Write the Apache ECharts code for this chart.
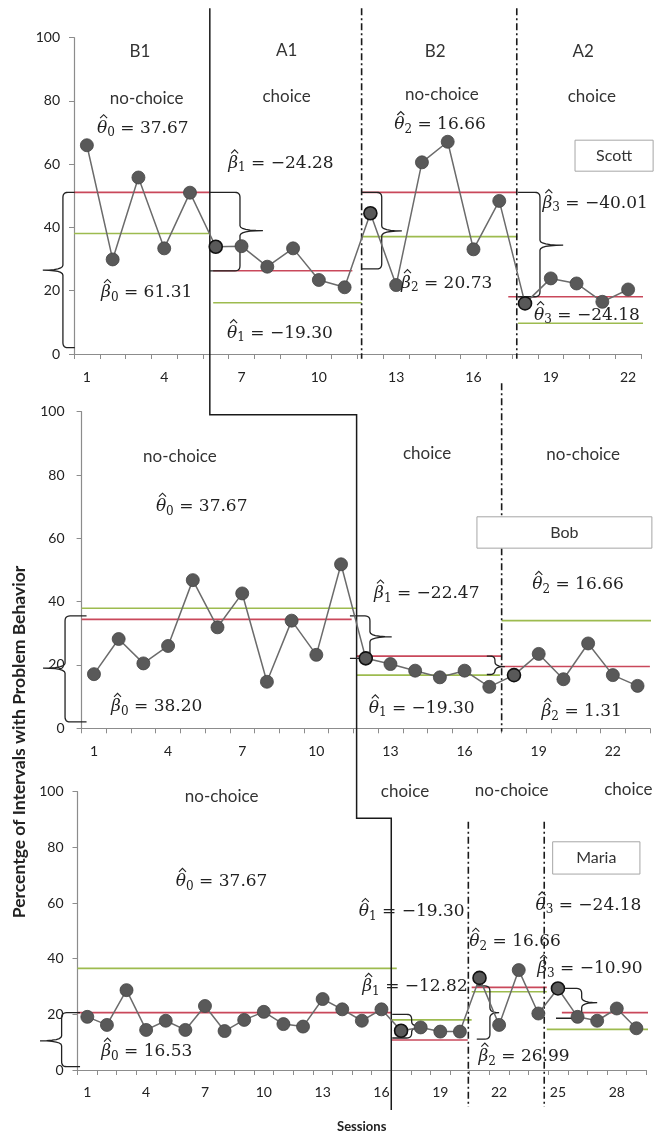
<!DOCTYPE html>
<html>
<head>
<meta charset="utf-8">
<script src="https://cdn.jsdelivr.net/npm/echarts@6/dist/echarts.min.js"></script>
<style>
html,body{margin:0;padding:0;background:#fff;}
#chart{width:656px;height:1136px;}
</style>
</head>
<body>
<div id="chart"></div>
<script>
// ---------------- DATA ----------------
const sessionsScott = ['1','2','3','4','5','6','7','8','9','10','11','12','13','14','15','16','17','18','19','20','21','22'];
const sessionsBob = ['1','2','3','4','5','6','7','8','9','10','11','12','13','14','15','16','17','18','19','20','21','22','23'];
const sessionsMaria = ['1','2','3','4','5','6','7','8','9','10','11','12','13','14','15','16','17','18','19','20','21','22','23','24','25','26','27','28','29'];

const scott = [66.0, 29.9, 55.8, 33.4, 51.0, 33.9, 34.1, 27.6, 33.4, 23.4, 21.1, 44.5, 21.8, 60.6, 67.1, 33.1, 48.4, 16.0, 23.9, 22.3, 16.5, 20.4];
const bob = [17.1, 28.2, 20.5, 26.0, 46.8, 31.9, 42.6, 14.7, 34.0, 23.2, 51.8, 22.1, 20.3, 18.2, 16.1, 18.2, 13.1, 16.8, 23.5, 15.5, 26.8, 16.8, 13.4];
const maria = [19.1, 16.2, 28.7, 14.4, 17.7, 14.4, 23.0, 14.0, 18.0, 20.9, 16.5, 15.6, 25.5, 21.8, 17.7, 21.8, 14.1, 15.3, 13.8, 13.8, 33.1, 16.2, 35.9, 20.3, 29.3, 19.1, 17.7, 22.1, 15.0];

// phase-start sessions drawn with a dark outline (1-based)
const outlinedScott = [6, 12, 18];
const outlinedBob = [12, 18];
const outlinedMaria = [17, 21, 25];

// level lines per panel: [colour, level, fromSession, toSession] (session-boundary units)
const levelsScott = [
  ['red', 51.1, 0, 5.27], ['green', 38.1, 0, 5.27],
  ['red', 26.3, 5.4, 10.8], ['green', 16.2, 5.4, 11.16],
  ['red', 51.1, 11.16, 17.2], ['green', 37.1, 11.16, 17.2],
  ['red', 18.1, 16.85, 22.3], ['green', 9.7, 17.23, 22.2]
];
const levelsBob = [
  ['red', 34.4, 0, 10.93], ['green', 37.9, 0, 11.13],
  ['red', 22.8, 11.13, 17.0], ['green', 16.8, 11.13, 16.93],
  ['red', 19.5, 17.0, 23.0], ['green', 34.0, 17.0, 23.25]
];
const levelsMaria = [
  ['red', 20.6, 0, 16.0], ['green', 36.5, 0, 16.28],
  ['red', 10.8, 16.0, 19.9], ['green', 18.0, 16.0, 20.1],
  ['red', 29.7, 20.1, 23.93], ['green', 28.1, 20.1, 23.93],
  ['red', 20.6, 24.7, 29.2], ['green', 14.6, 23.93, 29.35]
];

// tick label texts shown on the y axes
const yTicks = ['0', '20', '40', '60', '80', '100'];

// ---------------- STYLE / LAYOUT ----------------
const RED = '#c9485b', GREEN = '#9dbb4f';
const grids = [
  {left: 74, top: 37.7, width: 567, height: 316.3, n: 22, yMargin: 14, xMargin: 16},
  {left: 81.6, top: 411.7, width: 568.3, height: 316.6, n: 23, yMargin: 17, xMargin: 16},
  {left: 77.5, top: 791.7, width: 568.7, height: 278.3, n: 29, yMargin: 14, xMargin: 15}
];
const cats = [sessionsScott, sessionsBob, sessionsMaria];
const values = [scott, bob, maria];
const outlined = [outlinedScott, outlinedBob, outlinedMaria];
const levels = [levelsScott, levelsBob, levelsMaria];

const chart = echarts.init(document.getElementById('chart'), null, {renderer: 'canvas'});
const AX = '#8c8c8c';
const LABEL_FONT = 'Lato, "Open Sans", sans-serif';
const MATH_FONT = '"DejaVu Serif", serif';

const option = {
  animation: false,
  backgroundColor: '#fff',
  grid: grids.map(g => ({left: g.left, top: g.top, width: g.width, height: g.height})),
  xAxis: [
    ...grids.map((g, i) => ({
      type: 'category', gridIndex: i, data: cats[i], boundaryGap: true,
      axisLine: {lineStyle: {color: AX, width: 1.2}},
      axisTick: {show: true, interval: 0, length: 5, lineStyle: {color: AX}},
      axisLabel: {interval: 2, color: '#222', fontFamily: LABEL_FONT, fontSize: 14, margin: g.xMargin},
      splitLine: {show: false}
    })),
    ...grids.map((g, i) => ({type: 'value', gridIndex: i, min: 0, max: g.n, show: false}))
  ],
  yAxis: grids.map((g, i) => ({
    type: 'value', gridIndex: i, min: 0, max: 100, interval: 20,
    axisLine: {show: true, lineStyle: {color: AX, width: 1.2}},
    axisTick: {show: true, length: 5, lineStyle: {color: AX}},
    splitLine: {show: false},
    axisLabel: {color: '#222', fontFamily: LABEL_FONT, fontSize: 14, margin: g.yMargin,
      formatter: v => yTicks[Math.round(v / 20)]}
  })),
  series: []
};

grids.forEach((g, i) => {
  levels[i].forEach(l => {
    option.series.push({
      type: 'line', xAxisIndex: 3 + i, yAxisIndex: i, silent: true, symbol: 'none', z: 1,
      data: [[l[2], l[1]], [l[3], l[1]]],
      lineStyle: {color: l[0] === 'red' ? RED : GREEN, width: 1.6}
    });
  });
  option.series.push({
    type: 'line', xAxisIndex: i, yAxisIndex: i, z: 5,
    symbol: 'circle', symbolSize: 13,
    data: values[i].map((v, k) => outlined[i].includes(k + 1)
      ? {value: v, itemStyle: {borderColor: '#111', borderWidth: 1.6}} : v),
    itemStyle: {color: '#595959', borderColor: '#444', borderWidth: 0.8},
    lineStyle: {color: '#6b6b6b', width: 1.5}
  });
});

chart.setOption(option);

// ---------------- ANNOTATIONS (positioned through the axes) ----------------
function P(g, x, y) { return chart.convertToPixel({xAxisIndex: 3 + g, yAxisIndex: g}, [x, y]); }

// phase-change lines
const solidSteps = [[0, 5.27, 109.3], [1, 11.13, 99], [2, 16.0, 90.5]];
const dashLines = [[0, 11.16, 109.3, -1.5], [0, 17.18, 109.3, -1.5], [1, 17.0, 109, -1], [2, 19.93, 89.2, -13.3], [2, 23.8, 89.2, -13.3]];

// braces: panel, spine x, end x, nub x, top, bottom, middle
const braces = [
  [0, -0.43, 0.03, -1.21, 51.1, 2, 26.5],
  [0, 6.44, 5.27, 7.33, 51.1, 26.3, 39],
  [0, 11.94, 11.16, 12.72, 51.1, 26.9, 38.9],
  [0, 18.08, 17.23, 18.98, 51.1, 18.1, 34.4],
  [1, -0.67, 0.2, -1.56, 35.5, 2, 19],
  [1, 11.67, 10.86, 12.55, 35.5, 22.1, 28.9],
  [1, 16.73, 16.4, 17.13, 22.8, 17, 19.5],
  [2, -0.81, 0.13, -1.91, 20.6, 1.2, 10.5],
  [2, 17.04, 16.05, 17.72, 20.0, 11.5, 15.5],
  [2, 21.03, 20.36, 21.5, 30.2, 11.1, 20.6],
  [2, 25.71, 24.4, 26.5, 29.3, 18.6, 24.2]
];

// text annotations: panel, x, y, kind, content
const texts = [
  [0, 2.56, 95.5, 't', 'B1'], [0, 8.25, 96.0, 't', 'A1'], [0, 14.01, 95.5, 't', 'B2'], [0, 19.76, 95.5, 't', 'A2'],
  [0, 2.82, 80.8, 't', 'no-choice'], [0, 8.25, 81.3, 't', 'choice'], [0, 14.27, 82.0, 't', 'no-choice'], [0, 20.09, 81.5, 't', 'choice'],
  [0, 2.67, 71.4, 'm', ['θ', '0', ' = 37.67']],
  [0, 8.03, 60.3, 'm', ['β', '1', ' = −24.28']],
  [0, 2.82, 19.3, 'm', ['β', '0', ' = 61.31']],
  [0, 7.99, 6.6, 'm', ['θ', '1', ' = −19.30']],
  [0, 14.2, 72.4, 'm', ['θ', '2', ' = 16.66']],
  [0, 14.46, 22.4, 'm', ['β', '2', ' = 20.73']],
  [0, 20.22, 47.7, 'm', ['β', '3', ' = −40.01']],
  [0, 19.9, 12.3, 'm', ['θ', '3', ' = −24.18']],
  [1, 3.98, 86.0, 't', 'no-choice'], [1, 13.98, 86.9, 't', 'choice'], [1, 20.3, 86.6, 't', 'no-choice'],
  [1, 4.86, 70.0, 'm', ['θ', '0', ' = 37.67']],
  [1, 3.04, 6.8, 'm', ['β', '0', ' = 38.20']],
  [1, 20.09, 45.3, 'm', ['θ', '2', ' = 16.66']],
  [1, 13.97, 42.6, 'm', ['β', '1', ' = −22.47']],
  [1, 13.76, 6.3, 'm', ['θ', '1', ' = −19.30']],
  [1, 20.24, 5.2, 'm', ['β', '2', ' = 1.31']],
  [2, 7.35, 98.1, 't', 'no-choice'], [2, 16.7, 99.9, 't', 'choice'], [2, 22.14, 100.3, 't', 'no-choice'], [2, 28.09, 100.8, 't', 'choice'],
  [2, 7.35, 67.6, 'm', ['θ', '0', ' = 37.67']],
  [2, 3.53, 6.6, 'm', ['β', '0', ' = 16.53']],
  [2, 17.04, 56.8, 'm', ['θ', '1', ' = −19.30']],
  [2, 26.05, 59.2, 'm', ['θ', '3', ' = −24.18']],
  [2, 22.31, 46.1, 'm', ['θ', '2', ' = 16.66']],
  [2, 26.13, 36.5, 'm', ['β', '3', ' = −10.90']],
  [2, 17.21, 29.9, 'm', ['β', '1', ' = −12.82']],
  [2, 22.77, 4.8, 'm', ['β', '2', ' = 26.99']]
];

// name boxes: panel, x0, y0, x1, y1, name
const nameBoxes = [
  [0, 19.44, 67.6, 22.47, 57.8, 'Scott'],
  [1, 16.0, 66.8, 23.08, 56.9, 'Bob'],
  [2, 24.23, 82.0, 28.68, 70.4, 'Maria']
];

const graphic = [];

// solid staircase line
(function () {
  const pts = [];
  const a = P(0, solidSteps[0][1], solidSteps[0][2]);
  pts.push(a);
  const yb1 = P(1, 0, solidSteps[1][2])[1];
  pts.push([a[0], yb1]);
  const xb = P(1, solidSteps[1][1], 0)[0];
  pts.push([xb, yb1]);
  const yc = P(2, 0, solidSteps[2][2])[1];
  pts.push([xb, yc]);
  const xc = P(2, solidSteps[2][1], 0)[0];
  pts.push([xc, yc]);
  pts.push([xc, P(2, 0, -14.4)[1]]);
  graphic.push({type: 'polyline', z: 3, shape: {points: pts}, style: {stroke: '#1a1a1a', lineWidth: 1.5, fill: null}});
})();

dashLines.forEach(d => {
  const p0 = P(d[0], d[1], d[2]), p1 = P(d[0], d[1], d[3]);
  graphic.push({type: 'line', z: 3, shape: {x1: p0[0], y1: p0[1], x2: p1[0], y2: p1[1]},
    style: {stroke: '#1a1a1a', lineWidth: 1.6, lineDash: [7, 3, 2, 3]}});
});

function quad(pts, p0, c, p1) {
  for (let k = 1; k <= 6; k++) {
    const t = k / 6, u = 1 - t;
    pts.push([u * u * p0[0] + 2 * u * t * c[0] + t * t * p1[0], u * u * p0[1] + 2 * u * t * c[1] + t * t * p1[1]]);
  }
}

braces.forEach(b => {
  const g = b[0];
  const xv = P(g, b[1], 0)[0], xe = P(g, b[2], 0)[0], xn = P(g, b[3], 0)[0];
  const yt = P(g, 0, b[4])[1], yb = P(g, 0, b[5])[1], ym = P(g, 0, b[6])[1];
  const s = Math.sign(xe - xv) || 1;
  const r = Math.min(5, (yb - yt) / 4, Math.abs(xe - xv));
  const pts = [[xe, yt], [xv + s * r, yt]];
  quad(pts, [xv + s * r, yt], [xv, yt], [xv, yt + r]);
  pts.push([xv, ym - r]);
  quad(pts, [xv, ym - r], [xv, ym], [xn, ym]);
  quad(pts, [xn, ym], [xv, ym], [xv, ym + r]);
  pts.push([xv, yb - r]);
  quad(pts, [xv, yb - r], [xv, yb], [xv + s * r, yb]);
  pts.push([xe, yb]);
  graphic.push({type: 'polyline', z: 4, shape: {points: pts}, style: {stroke: '#222', fill: null, lineWidth: 1.3}});
});

nameBoxes.forEach(b => {
  const p0 = P(b[0], b[1], b[2]), p1 = P(b[0], b[3], b[4]);
  graphic.push({type: 'rect', z: 6, shape: {x: p0[0], y: p0[1], width: p1[0] - p0[0], height: p1[1] - p0[1]},
    style: {fill: '#fff', stroke: '#a6a6a6', lineWidth: 1}});
  graphic.push({type: 'text', z: 7, x: (p0[0] + p1[0]) / 2, y: (p0[1] + p1[1]) / 2,
    style: {text: b[5], font: '16px ' + LABEL_FONT, fill: '#333', align: 'center', verticalAlign: 'middle'}});
});

// measured layout of the estimate labels: greek letter, hat, subscript, rest
const mctx = document.createElement('canvas').getContext('2d');
const F_G = 'italic 17px ' + MATH_FONT, F_S = '12px ' + MATH_FONT, F_N = '17px ' + MATH_FONT;
function tw(font, s) { mctx.font = font; return mctx.measureText(s).width; }

texts.forEach(t => {
  const p = P(t[0], t[1], t[2]);
  if (t[3] === 't') {
    graphic.push({type: 'text', z: 8, x: p[0], y: p[1],
      style: {text: t[4], font: '17px ' + LABEL_FONT, fill: '#333', align: 'center', verticalAlign: 'middle'}});
  } else {
    const [gr, sub, rest] = t[4];
    const wg = tw(F_G, gr), ws = tw(F_S, sub), wr = tw(F_N, rest);
    const total = wg + ws + wr;
    const xl = p[0] - total / 2, yc = p[1];
    graphic.push({type: 'text', z: 8, x: xl, y: yc,
      style: {text: gr, font: F_G, fill: '#222', align: 'left', verticalAlign: 'middle'}});
    const hx = xl + wg / 2 + 1.5, hy = yc - 10;
    graphic.push({type: 'polyline', z: 8, shape: {points: [[hx - 3.5, hy], [hx, hy - 3.5], [hx + 3.5, hy]]},
      style: {stroke: '#222', lineWidth: 1.1, fill: null}});
    graphic.push({type: 'text', z: 8, x: xl + wg, y: yc + 5,
      style: {text: sub, font: F_S, fill: '#222', align: 'left', verticalAlign: 'middle'}});
    graphic.push({type: 'text', z: 8, x: xl + wg + ws, y: yc,
      style: {text: rest, font: F_N, fill: '#222', align: 'left', verticalAlign: 'middle'}});
  }
});

// axis titles
graphic.push({type: 'text', z: 8, x: 19, y: 742, rotation: Math.PI / 2,
  style: {text: 'Percentge of Intervals with Problem Behavior', font: 'bold 17.5px ' + LABEL_FONT, fill: '#222', align: 'center', verticalAlign: 'middle'}});
graphic.push({type: 'text', z: 8, x: 361.7, y: 1126.7,
  style: {text: 'Sessions', font: 'bold 13px ' + LABEL_FONT, fill: '#222', align: 'center', verticalAlign: 'middle'}});

chart.setOption({graphic: graphic});
</script>
</body>
</html>
